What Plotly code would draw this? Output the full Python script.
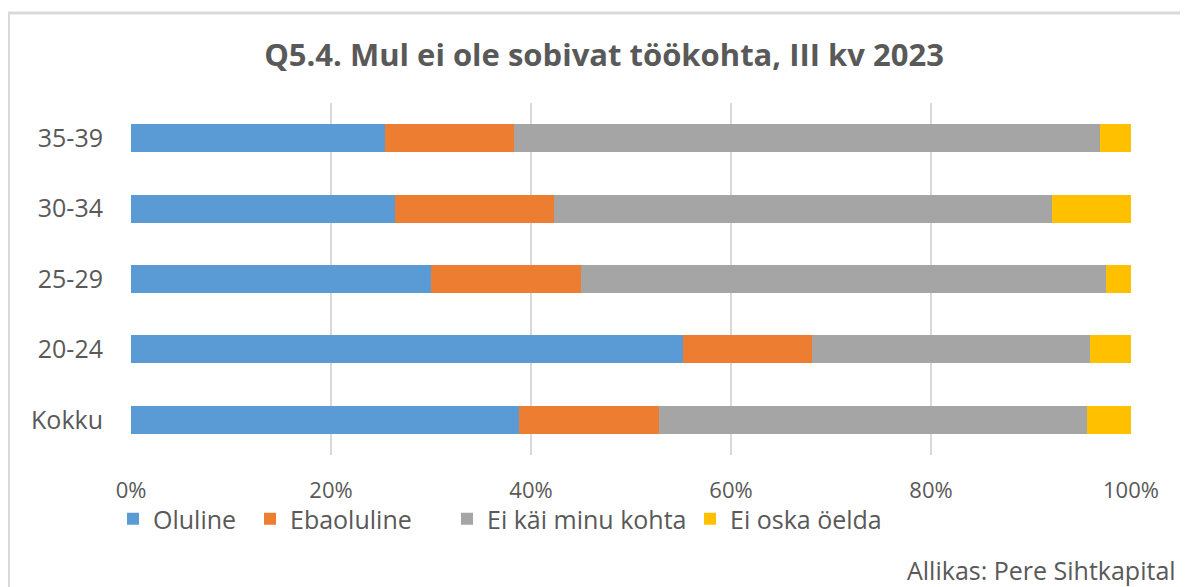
import plotly.graph_objects as go

categories = ["Kokku", "20-24", "25-29", "30-34", "35-39"]
series_names = ["Oluline", "Ebaoluline", "Ei käi minu kohta", "Ei oska öelda"]
oluline = [38.8, 55.2, 30.0, 26.4, 25.4]
ebaoluline = [14.0, 12.9, 15.0, 15.9, 12.9]
ei_kai = [42.8, 27.8, 52.5, 49.8, 58.6]
ei_oska = [4.4, 4.1, 2.5, 7.9, 3.1]
colors = ["#5B9BD5", "#ED7D31", "#A5A5A5", "#FFC000"]
tick_vals = [0, 20, 40, 60, 80, 100]
tick_text = ["0%", "20%", "40%", "60%", "80%", "100%"]

FONT = "Open Sans"
TXT = "#595959"

# figure is offset by the 8px body margin of the page
W, H = 1180, 579
L, T, PW, PH = 123, 95, 1000, 352


def px_x(x):
    return (x - 8 - L) / PW


def px_y(y):
    return (T + PH - (y - 8)) / PH


legend_ids = ["legend", "legend2", "legend3", "legend4"]
legend_text_x = [153, 290, 487, 730]

fig = go.Figure()
for name, vals, col, lid in zip(series_names, [oluline, ebaoluline, ei_kai, ei_oska], colors, legend_ids):
    fig.add_trace(go.Bar(
        y=categories, x=vals, name=name, orientation="h",
        marker=dict(color=col, line=dict(width=0)),
        legend=lid,
    ))

layout_legends = {}
for lid, tx in zip(legend_ids, legend_text_x):
    layout_legends[lid] = dict(
        orientation="h", xref="paper", yref="paper",
        x=px_x(tx - 40), xanchor="left", y=px_y(519), yanchor="middle",
        font=dict(size=25, color=TXT, family=FONT),
        bgcolor="rgba(0,0,0,0)", itemclick=False, itemdoubleclick=False,
    )

fig.update_layout(
    width=W, height=H,
    barmode="stack", bargap=0.6,
    paper_bgcolor="white", plot_bgcolor="white",
    margin=dict(l=L, r=W - L - PW, t=T, b=H - T - PH),
    font=dict(family=FONT, color=TXT, size=19),
    title=dict(text="<b>Q5.4. Mul ei ole sobivat töökohta, III kv 2023</b>",
               x=(604 - 8) / W, xanchor="center", y=1 - (55 - 8) / H, yanchor="middle",
               font=dict(size=31, color=TXT, family=FONT)),
    xaxis=dict(range=[0, 100], tickvals=tick_vals, ticktext=tick_text,
               showgrid=True, gridcolor="#D9D9D9", gridwidth=2,
               zeroline=False, showline=False, ticks="",
               ticklabelstandoff=20, tickfont=dict(size=22, color=TXT)),
    yaxis=dict(showgrid=False, zeroline=False, showline=False, ticks="",
               ticklabelstandoff=27, tickfont=dict(size=25, color=TXT)),
    showlegend=True,
    **layout_legends,
)

fig.add_annotation(text="Allikas: Pere Sihtkapital", xref="paper", yref="paper",
                   x=px_x(1178), xanchor="right",
                   y=px_y(570), yanchor="middle", showarrow=False,
                   font=dict(size=25, color=TXT, family=FONT))

fig.add_shape(type="rect", xref="paper", yref="paper",
              x0=px_x(8.5), x1=1.3, y0=-0.6, y1=px_y(13),
              line=dict(color="#D9D9D9", width=3), fillcolor="rgba(0,0,0,0)", layer="below")

fig.write_html("out.html")
